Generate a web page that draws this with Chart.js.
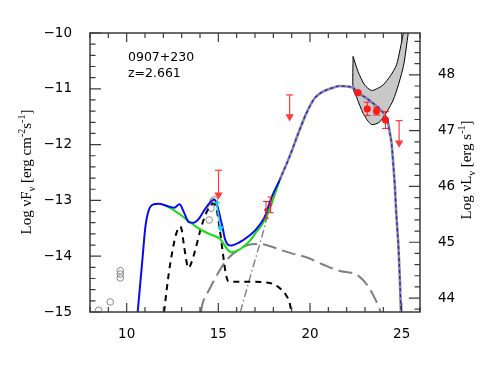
<!DOCTYPE html>
<html><head><meta charset="utf-8">
<script src="https://cdn.jsdelivr.net/npm/chart.js@4.4.1/dist/chart.umd.min.js"></script>
<style>html,body{margin:0;padding:0;background:#fff}</style>
</head><body>
<canvas id="c" width="491" height="382"></canvas>
<script>
// ---- tick labels ----
const xTicks = [10, 15, 20, 25];
const yTicks = [-15, -14, -13, -12, -11, -10];
const y2Ticks = [44, 45, 46, 47, 48];
const lumOffset = 58.75; // Log nuL_nu = Log nuF_nu + offset

// ---- model curves ----
const totalX = [10.6,10.84,11.02,11.2,11.48,11.75,12.2,12.6,12.88,13.12,13.39,13.67,13.85,14.0,14.33,14.6,14.78,14.95,15.1,15.23,15.35,15.5,15.65,16.16,16.7,17.06,17.52,17.9,18.34];
const totalY = [-15,-14.13,-13.48,-13.18,-13.07,-13.06,-13.1,-13.13,-13.07,-13.21,-13.39,-13.4,-13.36,-13.3,-13.13,-13.02,-12.99,-13.1,-13.3,-13.48,-13.68,-13.79,-13.81,-13.75,-13.63,-13.52,-13.3,-12.95,-12.64];
const ecX = [18.34,18.88,19.43,19.8,20.25,20.71,21.26,21.62,22.35,22.53,23.0,23.44,23.8,24.08,24.25,24.36,24.45,24.54,24.63,24.7,24.76,24.82,24.9,24.96];
const ecY = [-12.64,-12.22,-11.74,-11.44,-11.17,-11.05,-10.98,-10.95,-10.98,-11.05,-11.15,-11.26,-11.36,-11.47,-11.6,-11.8,-11.98,-12.34,-12.76,-13.2,-13.5,-13.8,-14.4,-15];
const greenX = [12.1,12.5,12.86,13.41,13.96,14.5,15.05,15.3,15.5,15.7,16.16,16.7,17.06,17.52,17.8,18.0,18.34];
const greenY = [-13.09,-13.16,-13.24,-13.38,-13.51,-13.6,-13.68,-13.78,-13.88,-13.93,-13.88,-13.73,-13.57,-13.36,-13.15,-12.97,-12.64];
const diskX = [12.04,12.3,12.5,12.7,12.9,13.0,13.14,13.37,13.55,13.78,14.05,14.32,14.55,14.72,14.9,15.05,15.23,15.4,15.55,16.0,17.0,17.6,18.0,18.34,18.7,18.9,18.98];
const diskY = [-15,-14.3,-13.9,-13.6,-13.47,-13.52,-13.84,-14.21,-14.1,-13.84,-13.5,-13.24,-13.1,-13.05,-13.15,-13.45,-13.9,-14.3,-14.45,-14.46,-14.46,-14.47,-14.5,-14.57,-14.7,-14.85,-15];
const sscX = [14.05,14.14,14.5,14.87,15.42,16.16,16.6,17.06,17.5,18.0,18.52,19.0,19.8,20.5,21.07,21.7,22.3,22.71,23.08,23.4,23.81,23.85];
const sscY = [-15,-14.85,-14.6,-14.37,-14.08,-13.87,-13.8,-13.78,-13.79,-13.84,-13.9,-13.95,-14.02,-14.12,-14.2,-14.27,-14.3,-14.37,-14.5,-14.67,-14.96,-15];
const ecRiseX = [16.2,16.8,17.4,17.88,18.34];
const ecRiseY = [-15,-14.3,-13.62,-13.05,-12.64];

// ---- Fermi bow-tie (upper edge then lower edge back) ----
const bowX = [22.35,22.62,22.98,23.35,23.7,23.99,24.4,24.72,25.09,25.3, 25.55,25.36,25.09,24.54,23.81,23.35,22.9,22.53,22.35,22.35];
const bowY = [-10.42,-10.69,-10.93,-11.03,-10.99,-10.93,-10.76,-10.57,-10.0,-9.6, -9.6,-10.0,-10.6,-11.2,-11.59,-11.64,-11.44,-11.14,-11.0,-10.42];

// ---- data ----
const archX = [8.47,9.1,9.65,9.65,9.65,14.5,14.6,14.7,14.78];
const archY = [-14.97,-14.82,-14.26,-14.32,-14.39,-13.35,-13.14,-13.02,-12.99];
const fermiX = [22.62,23.12,23.63,24.12];
const fermiY = [-11.07,-11.36,-11.4,-11.56];
const fermiErr = [0.03,0.12,0.07,0.15];
const xrtX = [17.6,17.85];
const xrtY = [-13.17,-13.08];
const xrtErr = [0.15,0.14];
const ulX = [15.01,18.89,24.86];
const ulTop = [-12.46,-11.11,-11.57];
const ulHead = [-12.9,-11.5,-11.97];
const uvX = [14.9,15.12];
const uvY = [-13.04,-13.5];

const pts = (xs, ys) => xs.map((x, i) => ({x, y: ys[i]}));
const RED = '#ff1a1a';

const datasets = [];
const line = (data, color, width, dash, order, extra) => Object.assign({
  data, showLine: true, borderColor: color, borderWidth: width, borderDash: dash || [],
  pointRadius: 0, fill: false, cubicInterpolationMode: 'monotone', order
}, extra || {});

datasets.push(line(pts(bowX, bowY), '#000', 1, [], 20, {backgroundColor: '#c8c8c8', fill: 'shape', cubicInterpolationMode: 'default', tension: 0.25}));
datasets.push({data: pts(archX, archY), showLine: false, pointRadius: 3.3, pointBorderColor: '#888', pointBorderWidth: 1, pointBackgroundColor: 'rgba(0,0,0,0)', order: 15});
datasets.push(line(pts(sscX, sscY), '#808080', 2, [14, 6], 12));
datasets.push(line(pts(ecRiseX, ecRiseY), '#808080', 1.4, [8, 3, 1.5, 3], 11));
datasets.push(line(pts(diskX, diskY), '#000', 2, [6, 5], 10));
datasets.push(line(pts(ecX, ecY), '#8c8c8c', 2.6, [], 9));
datasets.push(line(pts(greenX, greenY), '#11e011', 2, [], 8));
datasets.push(line(pts(totalX, totalY), '#0a0aee', 2, [], 7));
datasets.push(line(pts(ecX, ecY), '#1a1aff', 1.3, [3, 3], 6));
datasets.push({data: pts(uvX, uvY), showLine: true, borderColor: '#22ccee', borderWidth: 1.6,
  pointStyle: ['line', 'triangle'], rotation: [0, 180], pointRadius: [3.5, 2.5],
  pointBorderColor: '#22ccee', pointBackgroundColor: '#22ccee', pointBorderWidth: 1.5, order: 5});
fermiX.forEach((x, i) => datasets.push({data: [{x, y: fermiY[i] - fermiErr[i]}, {x, y: fermiY[i] + fermiErr[i]}],
  showLine: true, borderColor: RED, borderWidth: 1, pointStyle: 'line', pointRadius: 3.5, pointBorderColor: RED, pointBorderWidth: 1, order: 2}));
xrtX.forEach((x, i) => datasets.push({data: [{x, y: xrtY[i] - xrtErr[i]}, {x, y: xrtY[i] + xrtErr[i]}],
  showLine: true, borderColor: RED, borderWidth: 1, pointStyle: 'line', pointRadius: 3, pointBorderColor: RED, pointBorderWidth: 1, order: 2}));
datasets.push({data: pts(fermiX, fermiY), showLine: false, pointRadius: 3.2, pointBackgroundColor: RED, pointBorderColor: RED, order: 1});
datasets.push({data: pts(xrtX, xrtY), showLine: false, pointRadius: 1.3, pointBackgroundColor: RED, pointBorderColor: RED, order: 1});
ulX.forEach((x, i) => datasets.push({data: [{x, y: ulTop[i]}, {x, y: ulHead[i]}], showLine: true,
  borderColor: '#ff3b3b', borderWidth: 1.2, pointStyle: ['line', 'triangle'], rotation: [0, 180], pointRadius: [3.5, 3.6],
  pointBorderColor: '#ff3b3b', pointBackgroundColor: '#ff3b3b', pointBorderWidth: 1.2, order: 0}));

function drawRich(ctx, parts, bx, cy) {
  ctx.save();
  ctx.translate(bx, cy);
  ctx.rotate(-Math.PI / 2);
  let total = 0;
  parts.forEach(p => { ctx.font = p.f; p.w = ctx.measureText(p.t).width; total += p.w; });
  let xx = -total / 2;
  ctx.textBaseline = 'alphabetic';
  ctx.fillStyle = '#000';
  parts.forEach(p => { ctx.font = p.f; ctx.fillText(p.t, xx, p.dy || 0); xx += p.w; });
  ctx.restore();
}
const F = '15px "Liberation Serif"', S = '10px "Liberation Serif"';

const deco = {
  id: 'deco',
  afterDatasetsDraw(chart) {
    const {ctx, chartArea: a, scales: {x, y, y2}} = chart;
    ctx.save();
    ctx.strokeStyle = '#3a3a3a';
    ctx.lineWidth = 1.2;
    ctx.beginPath();
    for (let v = 8; v <= 26; v++) {
      const px = x.getPixelForValue(v), L = v % 5 === 0 ? 9 : 5;
      ctx.moveTo(px, a.bottom); ctx.lineTo(px, a.bottom - L);
      ctx.moveTo(px, a.top); ctx.lineTo(px, a.top + L);
    }
    for (let k = -75; k <= -50; k++) {
      const py = y.getPixelForValue(k / 5), L = k % 5 === 0 ? 11 : 5.5;
      ctx.moveTo(a.left, py); ctx.lineTo(a.left + L, py);
    }
    for (let k = 219; k <= 243; k++) {
      const py = y2.getPixelForValue(k / 5), L = k % 5 === 0 ? 11 : 5.5;
      ctx.moveTo(a.right, py); ctx.lineTo(a.right - L, py);
    }
    ctx.stroke();
    ctx.lineWidth = 1.5;
    ctx.strokeRect(a.left, a.top, a.right - a.left, a.bottom - a.top);
    ctx.fillStyle = '#000';
    ctx.font = '12.5px "DejaVu Sans"';
    ctx.textBaseline = 'alphabetic';
    ctx.fillText('0907+230', 128, 61);
    ctx.fillText('z=2.661', 128, 77);
    drawRich(ctx, [{t: 'Log \u03bdF', f: F}, {t: '\u03bd', f: S, dy: 4}, {t: ' [erg cm', f: F}, {t: '-2', f: S, dy: -6},
      {t: 's', f: F}, {t: '-1', f: S, dy: -6}, {t: ']', f: F}], 31, 172);
    drawRich(ctx, [{t: 'Log \u03bdL', f: F}, {t: '\u03bd', f: S, dy: 4}, {t: ' [erg s', f: F}, {t: '-1', f: S, dy: -6}, {t: ']', f: F}], 471, 170);
    ctx.restore();
  }
};

const tickFont = {family: 'DejaVu Sans', size: 13.5};
new Chart(document.getElementById('c'), {
  type: 'scatter',
  data: {datasets},
  options: {
    responsive: false, animation: false,
    layout: {padding: {top: 33, left: 0, right: 0, bottom: 0}},
    plugins: {legend: {display: false}, tooltip: {enabled: false}},
    scales: {
      x: {type: 'linear', position: 'bottom', min: 8, max: 26,
        grid: {display: false}, border: {display: false},
        afterBuildTicks: s => { s.ticks = xTicks.map(v => ({value: v})); },
        afterFit: s => { s.height = 70; },
        ticks: {padding: 6, color: '#000', font: tickFont, maxRotation: 0, autoSkip: false}},
      y: {type: 'linear', position: 'left', min: -15, max: -10,
        grid: {display: false}, border: {display: false},
        afterBuildTicks: s => { s.ticks = yTicks.map(v => ({value: v})); },
        afterFit: s => { s.width = 90; },
        ticks: {padding: 10, color: '#000', font: tickFont, callback: v => (v < 0 ? '\u2212' : '') + Math.abs(v)}},
      y2: {type: 'linear', position: 'right', min: -15 + lumOffset, max: -10 + lumOffset,
        grid: {display: false}, border: {display: false},
        afterBuildTicks: s => { s.ticks = y2Ticks.map(v => ({value: v})); },
        afterFit: s => { s.width = 71; },
        ticks: {padding: 10, color: '#000', font: tickFont, callback: v => String(v)}}
    }
  },
  plugins: [deco]
});
</script>
</body></html>
